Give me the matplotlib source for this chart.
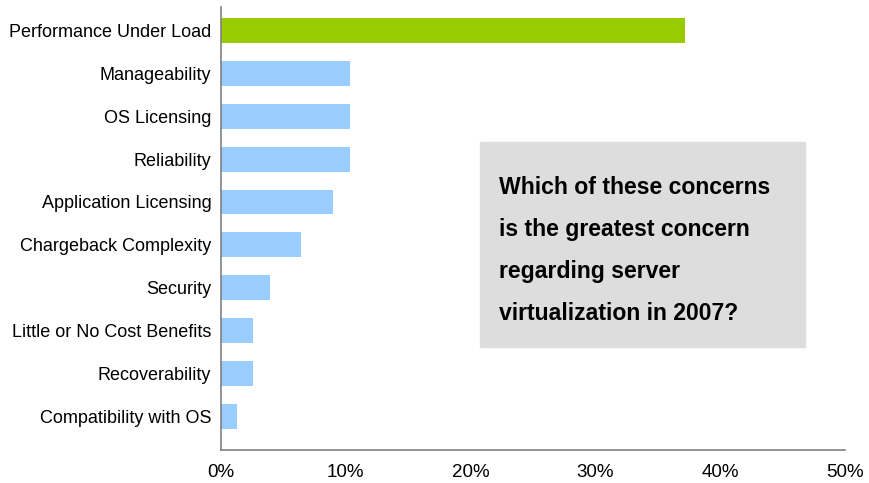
import matplotlib
matplotlib.use("Agg")
import matplotlib.pyplot as plt
from matplotlib.ticker import FuncFormatter

plt.rcParams["font.family"] = ["Liberation Sans", "DejaVu Sans"]

concerns = [
    "Performance Under Load",
    "Manageability",
    "OS Licensing",
    "Reliability",
    "Application Licensing",
    "Chargeback Complexity",
    "Security",
    "Little or No Cost Benefits",
    "Recoverability",
    "Compatibility with OS",
]
percent = [37.2, 10.3, 10.3, 10.3, 9.0, 6.4, 3.9, 2.6, 2.6, 1.3]
colors = ["#99cc00"] + ["#99ccff"] * 9
question = [
    "Which of these concerns",
    "is the greatest concern",
    "regarding server",
    "virtualization in 2007?",
]

fig = plt.figure(figsize=(8.7, 4.83), dpi=100)
ax = fig.add_axes([221 / 870, 33 / 483, 624 / 870, 443 / 483])

y = list(range(len(concerns)))
ax.barh(y, percent, height=0.58, color=colors)
ax.set_xlim(0, 50)
ax.set_ylim(9.79, -0.55)
ax.set_yticks(y)
ax.set_yticklabels(concerns, fontsize=13)
ax.set_xticks(range(0, 51, 10))
ax.xaxis.set_major_formatter(FuncFormatter(lambda v, _: f"{v:.0f}%"))
ax.tick_params(axis="x", labelsize=13.5, length=0, pad=10)
ax.tick_params(axis="y", length=0, pad=7)

for side in ("top", "right"):
    ax.spines[side].set_visible(False)
for side in ("left", "bottom"):
    ax.spines[side].set_color("#808080")
    ax.spines[side].set_linewidth(1.2)

# question box
fig.patches.append(plt.Rectangle((480 / 870, 136 / 483), 325 / 870, 205 / 483,
                                 transform=fig.transFigure, color="#dddddd", zorder=0))
for i, line in enumerate(question):
    fig.text(499 / 870, (483 - 187 - 42.3 * i) / 483, line, fontsize=16.6,
             fontweight="bold", va="center", ha="left")

fig.savefig("out.png", dpi=100)
